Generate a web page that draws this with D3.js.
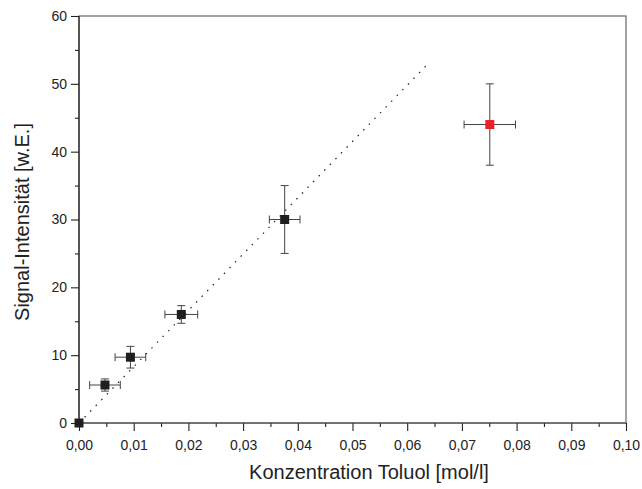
<!DOCTYPE html>
<html>
<head>
<meta charset="utf-8">
<script src="https://cdn.jsdelivr.net/npm/d3@7"></script>
<style>
  html, body { margin: 0; padding: 0; background: #fff; }
  svg { display: block; font-family: "Liberation Sans", Arial, sans-serif; }
</style>
</head>
<body>
<svg id="chart" width="642" height="489"></svg>
<script>
// Calibration data: toluene concentration vs. signal intensity
const concentration = [0.0, 0.00475, 0.0094, 0.0187, 0.0376, 0.0751];
const signal        = [0.0, 5.6, 9.7, 16.0, 30.0, 44.0];
const signalErr     = [0.0, 0.9, 1.6, 1.3, 5.0, 6.0];
const concErr       = [0.0, 0.0028, 0.0028, 0.003, 0.0028, 0.0047];
const outlier       = [false, false, false, false, false, true];

// Linear fit through the origin
const fitSlope = 830;
const fitRange = [0.0, 0.0638];

const xTicks = [0, 0.01, 0.02, 0.03, 0.04, 0.05, 0.06, 0.07, 0.08, 0.09, 0.10];
const yTicks = [0, 10, 20, 30, 40, 50, 60];

const margin = { left: 79, right: 16, top: 16, bottom: 66 };
const W = 642, H = 489;
const svg = d3.select("#chart");

const x = d3.scaleLinear().domain([0, 0.10]).range([margin.left, W - margin.right]);
const y = d3.scaleLinear().domain([0, 60]).range([H - margin.bottom, margin.top]);

const axisColor = "#222";
const fmt = v => d3.format(".2f")(v).replace(".", ",");

// Minor ticks
const xMinor = d3.range(0.005, 0.1, 0.01);
const yMinor = d3.range(5, 60, 10);

// Frame around the plot area (lighter than the axes)
svg.append("rect")
  .attr("x", x(0)).attr("y", y(60))
  .attr("width", x(0.10) - x(0)).attr("height", y(0) - y(60))
  .attr("fill", "none").attr("stroke", "#666").attr("stroke-width", 1.2);

const gx = svg.append("g").attr("transform", `translate(0,${y(0)})`)
  .call(d3.axisBottom(x).tickValues(xTicks).tickFormat(fmt).tickSize(8).tickPadding(9));
const gxm = svg.append("g").attr("transform", `translate(0,${y(0)})`)
  .call(d3.axisBottom(x).tickValues(xMinor).tickFormat("").tickSize(4));
const gy = svg.append("g").attr("transform", `translate(${x(0)},0)`)
  .call(d3.axisLeft(y).tickValues(yTicks).tickFormat(d3.format("d")).tickSize(8).tickPadding(4));
const gym = svg.append("g").attr("transform", `translate(${x(0)},0)`)
  .call(d3.axisLeft(y).tickValues(yMinor).tickFormat("").tickSize(4));

[gx, gxm, gy, gym].forEach(g => {
  g.select(".domain").remove();
  g.selectAll("line").attr("stroke", axisColor).attr("stroke-width", 1.1);
  g.selectAll("text").attr("fill", "#222").style("font-size", "14px")
    .style("font-family", "'Liberation Sans', Arial, sans-serif");
});

// Left and bottom axis lines
svg.append("line").attr("x1", x(0)).attr("x2", x(0)).attr("y1", y(0)).attr("y2", y(60))
  .attr("stroke", axisColor).attr("stroke-width", 1.2);
svg.append("line").attr("x1", x(0)).attr("x2", x(0.10)).attr("y1", y(0)).attr("y2", y(0))
  .attr("stroke", "#444").attr("stroke-width", 1.2);

// Fit line (dotted)
svg.append("line")
  .attr("x1", x(fitRange[0])).attr("y1", y(fitSlope * fitRange[0]))
  .attr("x2", x(fitRange[1])).attr("y2", y(fitSlope * fitRange[1]))
  .attr("stroke", "#222").attr("stroke-width", 1.2)
  .attr("stroke-dasharray", "1.5,6.5");

// Error bars
const data = concentration.map((c, i) => ({
  c, s: signal[i], se: signalErr[i], ce: concErr[i], red: outlier[i]
}));
const cap = 4;
const eb = svg.append("g").attr("stroke", "#444").attr("stroke-width", 1);
data.filter(d => d.se > 0 || d.ce > 0).forEach(d => {
  const g = eb.append("g");
  // vertical
  g.append("line").attr("x1", x(d.c)).attr("x2", x(d.c))
    .attr("y1", y(d.s - d.se)).attr("y2", y(d.s + d.se));
  g.append("line").attr("x1", x(d.c) - cap).attr("x2", x(d.c) + cap)
    .attr("y1", y(d.s + d.se)).attr("y2", y(d.s + d.se));
  g.append("line").attr("x1", x(d.c) - cap).attr("x2", x(d.c) + cap)
    .attr("y1", y(d.s - d.se)).attr("y2", y(d.s - d.se));
  // horizontal
  g.append("line").attr("x1", x(d.c - d.ce)).attr("x2", x(d.c + d.ce))
    .attr("y1", y(d.s)).attr("y2", y(d.s));
  g.append("line").attr("x1", x(d.c - d.ce)).attr("x2", x(d.c - d.ce))
    .attr("y1", y(d.s) - cap).attr("y2", y(d.s) + cap);
  g.append("line").attr("x1", x(d.c + d.ce)).attr("x2", x(d.c + d.ce))
    .attr("y1", y(d.s) - cap).attr("y2", y(d.s) + cap);
});

// Square markers
const sz = 9;
svg.append("g").selectAll("rect").data(data).join("rect")
  .attr("x", d => x(d.c) - sz / 2).attr("y", d => y(d.s) - sz / 2)
  .attr("width", sz).attr("height", sz)
  .attr("fill", d => d.red ? "#e8212b" : "#1f1f1f");

// Axis titles
svg.append("text")
  .attr("x", 369).attr("y", 479)
  .attr("text-anchor", "middle").attr("fill", "#222")
  .style("font-size", "20px")
  .text("Konzentration Toluol [mol/l]");
svg.append("text")
  .attr("transform", `translate(29,222) rotate(-90)`)
  .attr("text-anchor", "middle").attr("fill", "#222")
  .style("font-size", "20px")
  .text("Signal-Intensität [w.E.]");
</script>
</body>
</html>
